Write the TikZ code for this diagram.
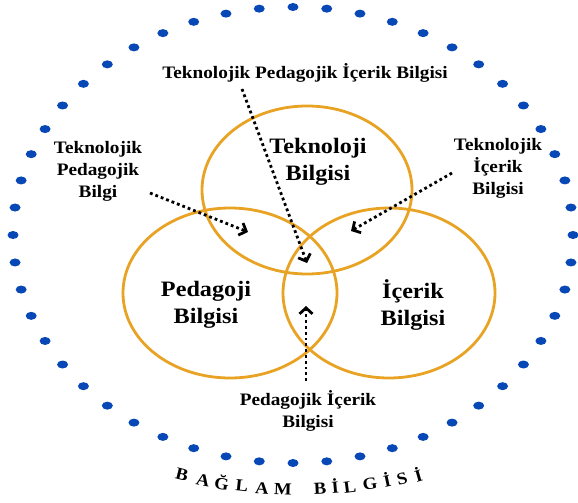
\documentclass[tikz,border=0pt]{standalone}
\usepackage{fontspec}
\setmainfont{Liberation Serif}[FakeStretch=1.1]
\usetikzlibrary{arrows.meta}

\definecolor{setorange}{RGB}{232,163,36}
\definecolor{contextblue}{RGB}{8,72,182}

\begin{document}
\begin{tikzpicture}[x=1pt, y=-1pt]

        % Styles kept local to the picture
        \tikzset{
            set/.style={draw=setorange, line width=2.8pt},
            bigtext/.style={font=\fontsize{22}{27}\selectfont\bfseries, align=center},
            smalltext/.style={font=\fontsize{17.5}{22}\selectfont\bfseries, align=center},
            pointer/.style={line width=2.8pt, dash pattern=on 2.8pt off 3pt,
                -{Straight Barb[length=6pt, width=13pt]}},
            ctxdot/.style={fill=contextblue},
            ctxletter/.style={font=\fontsize{17}{17}\selectfont\bfseries, inner sep=0pt}
        }

        \useasboundingbox (0,0) rectangle (578,503);

        % --- Context: the dotted outer ring ---
        % 52 dots round an ellipse centred at (293,235), 6.923 degrees apart
        \foreach \i in {0,...,51}
            \fill[ctxdot] ({293+280*cos(90+6.923*\i)}, {235+228*sin(90+6.923*\i)})
                ellipse [x radius=5.5pt, y radius=4pt];

        % --- Context label, letter by letter along the bottom ---
        \foreach \ch/\px/\py/\rot [count=\k] in {B/182/475/-14, A/203/480/-11, Ğ/222/482/-9,
                L/242/486/-6, A/262/488/-4, M/283/489/-2, B/320/489/3, İ/335/486/5,
                L/350/487/7, G/370/484/9, İ/387/480/12, S/402/479/14, İ/418/474/16}
            \node[ctxletter, rotate=\rot] (ctx\k) at (\px,\py) {\ch};

        % --- The three knowledge sets ---
        \draw[set] (307,190) ellipse [x radius=105pt, y radius=84pt];
        \draw[set] (230,293) ellipse [x radius=107pt, y radius=85pt];
        \draw[set] (389,293) ellipse [x radius=106pt, y radius=85pt];

        \node[bigtext] (tk) at (318,162) {Teknoloji\\Bilgisi};
        \node[bigtext] (pk) at (206,305) {Pedagoji\\Bilgisi};
        \node[bigtext] (ck) at (413,305) {İçerik\\Bilgisi};

        % --- Overlap labels ---
        \node[smalltext] (tpck) at (305,73) {Teknolojik Pedagojik İçerik Bilgisi};
        \node[smalltext] (tpk) at (98,171) {Teknolojik\\Pedagojik\\Bilgi};
        \node[smalltext] (tck) at (498,168) {Teknolojik\\İçerik\\Bilgisi};
        \node[smalltext] (pck) at (308,411) {Pedagojik İçerik\\Bilgisi};

        % --- Dotted pointers into the overlaps ---
        \coordinate (tpckFrom) at (242,89);
        \coordinate (tpckTo) at (307,263);
        \coordinate (tpkFrom) at (150,193);
        \coordinate (tpkTo) at (248,232);
        \coordinate (tckFrom) at (452,173);
        \coordinate (tckTo) at (351,231);
        \coordinate (pckFrom) at (306,381);
        \coordinate (pckTo) at (306,306);

        \draw[pointer] (tpckFrom) -- (tpckTo);
        \draw[pointer] (tpkFrom) -- (tpkTo);
        \draw[pointer] (tckFrom) -- (tckTo);
        \draw[pointer] (pckFrom) -- (pckTo);

    \end{tikzpicture}
\end{document}
